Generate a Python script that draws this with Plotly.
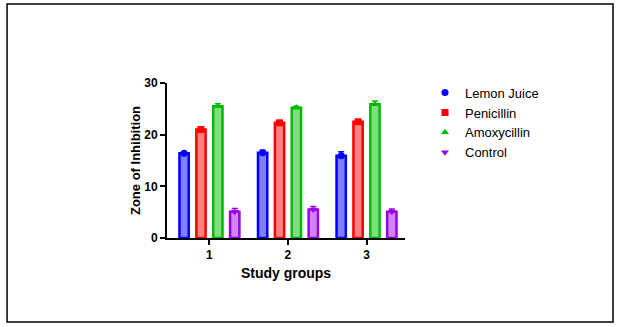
import plotly.graph_objects as go

groups = ["1", "2", "3"]
series = ["Lemon Juice", "Penicillin", "Amoxycillin", "Control"]
means = {
    "Lemon Juice": [16.4, 16.5, 15.9],
    "Penicillin": [21.0, 22.3, 22.5],
    "Amoxycillin": [25.5, 25.2, 25.9],
    "Control": [5.1, 5.5, 5.1],
}
errors = {
    "Lemon Juice": [0.3, 0.5, 0.8],
    "Penicillin": [0.4, 0.4, 0.4],
    "Amoxycillin": [0.5, 0.3, 0.6],
    "Control": [0.6, 0.6, 0.5],
}
line_colors = ["#0000ff", "#ff0000", "#00bb00", "#9a00e6"]
fill_colors = ["#7f7fff", "#ff8080", "#80dd80", "#d383f5"]
symbols = ["circle", "square", "triangle-up", "triangle-down"]

fig = go.Figure()
for i, s in enumerate(series):
    fig.add_trace(go.Bar(
        x=groups, y=means[s], name=s, showlegend=False,
        offsetgroup=str(i), alignmentgroup="g",
        marker=dict(color=fill_colors[i], line=dict(color=line_colors[i], width=2.5)),
        error_y=dict(type="data", array=errors[s], arrayminus=[0] * 3, symmetric=False,
                     color=line_colors[i], thickness=1.5, width=3),
    ))
for i, s in enumerate(series):
    fig.add_trace(go.Scatter(
        x=groups, y=means[s], name=s, mode="markers",
        offsetgroup=str(i), alignmentgroup="g",
        marker=dict(symbol=symbols[i], color=line_colors[i], size=7),
    ))

fig.update_layout(
    width=620, height=327,
    paper_bgcolor="white", plot_bgcolor="white",
    margin=dict(l=167, r=215, t=83, b=89),
    barmode="group", bargap=0.14, bargroupgap=0.45,
    scattermode="group", scattergap=0.14,
    font=dict(family="Liberation Sans, Arial, sans-serif", color="black"),
    legend=dict(x=1.084, y=1.035, xanchor="left", yanchor="top",
                font=dict(size=13), tracegroupgap=0,
                bgcolor="rgba(0,0,0,0)"),
    shapes=[dict(type="rect", xref="paper", yref="paper",
                 x0=-0.672, x1=1.874, y0=-0.542, y1=1.51,
                 line=dict(color="black", width=1.5))],
)
fig.update_xaxes(
    type="category", range=[-0.54, 2.49],
    showline=True, linecolor="black", linewidth=2, mirror=False,
    ticks="outside", ticklen=5, tickwidth=1.5, tickcolor="black",
    showgrid=False, zeroline=False,
    tickfont=dict(size=12, family="Liberation Sans, Arial", weight="bold"),
    title=dict(text="<b>Study groups</b>", font=dict(size=14), standoff=7),
)
fig.update_yaxes(
    range=[0, 30], tickvals=[0, 10, 20, 30],
    showline=True, linecolor="black", linewidth=2,
    ticks="outside", ticklen=5, tickwidth=1.5, tickcolor="black",
    showgrid=False, zeroline=False,
    tickfont=dict(size=12, family="Liberation Sans, Arial", weight="bold"),
    title=dict(text="<b>Zone of Inhibition</b>", font=dict(size=13), standoff=1),
)
fig.write_html("out.html")
